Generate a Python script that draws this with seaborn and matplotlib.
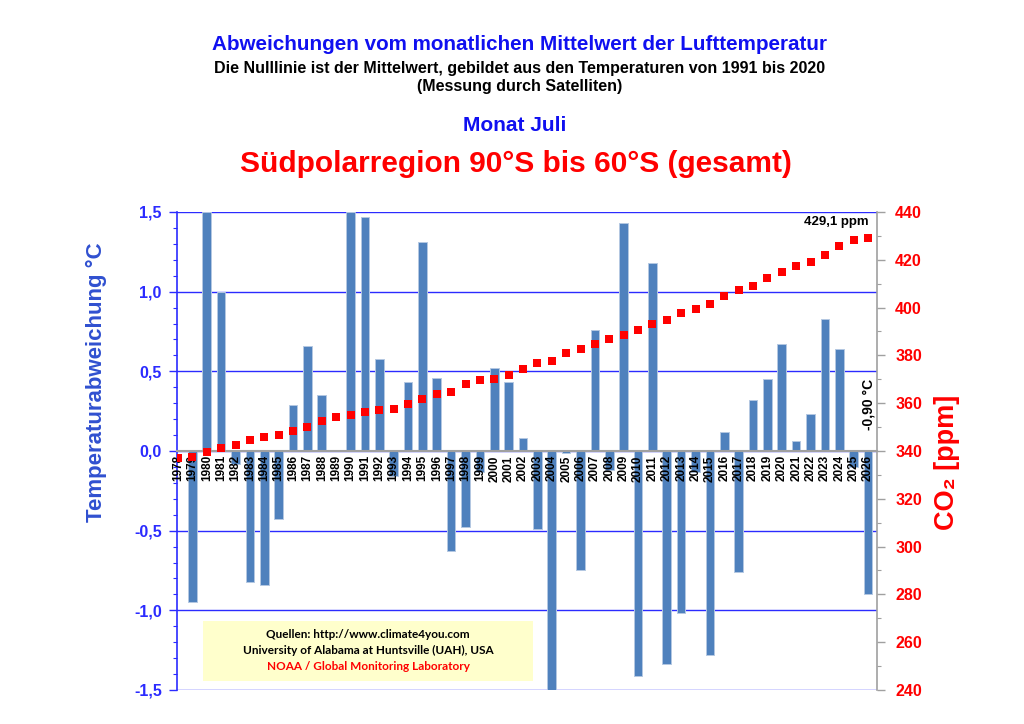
import numpy as np
import pandas as pd
import matplotlib
matplotlib.use("Agg")
import matplotlib.pyplot as plt
import seaborn as sns
from matplotlib.ticker import MultipleLocator, FuncFormatter
from matplotlib.patches import Rectangle

# ---------------- data ----------------
years = list(range(1978, 2027))
temp_anom = [np.nan, -0.95, 1.50, 1.00, -0.08, -0.82, -0.84, -0.43, 0.29, 0.66,
             0.35, 0.00, 1.50, 1.47, 0.58, -0.16, 0.43, 1.31, 0.46, -0.63,
             -0.48, -0.13, 0.52, 0.43, 0.08, -0.49, -1.52, -0.01, -0.75, 0.76,
             -0.12, 1.43, -1.41, 1.18, -1.34, -1.02, -0.13, -1.28, 0.12, -0.76,
             0.32, 0.45, 0.67, 0.06, 0.23, 0.83, 0.64, -0.10, -0.90]
co2_ppm = [337.0, 337.6, 339.5, 341.1, 342.5, 344.5, 345.9, 346.8, 348.4, 350.2,
           352.7, 354.1, 354.9, 356.3, 357.2, 357.6, 359.5, 361.8, 363.7, 364.6,
           368.2, 369.7, 370.1, 371.8, 374.3, 376.9, 377.7, 381.0, 382.8, 384.9,
           386.7, 388.4, 390.6, 393.0, 394.8, 397.6, 399.4, 401.5, 404.7, 407.4,
           409.1, 412.2, 414.8, 417.2, 419.0, 422.0, 425.6, 428.1, 429.1]
temp_ticks = [-1.5, -1.0, -0.5, 0.0, 0.5, 1.0, 1.5]
co2_ticks = list(range(240, 441, 20))

title_1 = "Abweichungen vom monatlichen Mittelwert der Lufttemperatur"
title_2 = "Die Nulllinie ist der Mittelwert, gebildet aus den Temperaturen von 1991 bis 2020"
title_3 = "(Messung durch Satelliten)"
title_month = "Monat Juli"
title_region = "Südpolarregion 90°S bis 60°S (gesamt)"
last_temp_label = "-0,90 °C"
last_co2_label = "429,1 ppm"
source_lines = ["Quellen: http://www.climate4you.com",
                "University of Alabama at Huntsville (UAH), USA",
                "NOAA / Global Monitoring Laboratory"]

df = pd.DataFrame({"year": [str(y) for y in years], "temp": temp_anom, "co2": co2_ppm})

# ---------------- style ----------------
sns.set_style("white")
plt.rcParams["font.family"] = ["Liberation Sans", "DejaVu Sans"]
plt.rcParams["font.weight"] = "bold"

BLUE = "#2B2BFF"
BAR = "#4F81BD"
GRAY = "#A0A0A0"

fig = plt.figure(figsize=(10.24, 7.24), dpi=100)
ax = fig.add_axes([0.1729, 0.047, 0.6836, 0.6602])
ax.set_axisbelow(True)

sns.barplot(data=df, x="year", y="temp", color=BAR, width=0.6, errorbar=None,
            saturation=1, edgecolor="#B4C8E2", linewidth=0.7, ax=ax)

n = len(years)
ax.set_xlim(-0.07, n - 1 + 0.63)
ax.set_ylim(-1.5, 1.5)
ax.set_xlabel("")
ax.set_ylabel("Temperaturabweichung °C", color="#3050D0", fontsize=16,
              fontweight="bold")
ax.yaxis.set_label_coords(-0.10, 0.644)

ax.set_yticks(temp_ticks)
ax.yaxis.set_minor_locator(MultipleLocator(0.1))
ax.yaxis.set_major_formatter(FuncFormatter(lambda v, p: f"{v:.1f}".replace(".", ",")))
ax.tick_params(axis="y", which="major", colors=BLUE, labelcolor=BLUE, length=6,
               width=1, labelsize=11.5, pad=5)
ax.tick_params(axis="y", which="minor", colors=BLUE, length=3, width=0.8)
for lab in ax.get_yticklabels():
    lab.set_fontweight("bold")
ax.yaxis.grid(True, which="major", color=BLUE, linewidth=1.0)

ax.spines["top"].set_visible(False)
ax.spines["right"].set_visible(False)
ax.spines["left"].set_color(BLUE)
ax.spines["left"].set_linewidth(1.2)
ax.spines["bottom"].set_position(("data", 0))
ax.spines["bottom"].set_color(GRAY)
ax.spines["bottom"].set_linewidth(1.5)
ax.spines["bottom"].set_zorder(3)
ax.tick_params(axis="x", colors=GRAY, length=3, width=1, labelbottom=False)

for i, yr in enumerate(years):
    ax.annotate(str(yr), xy=(i, 0), xytext=(0, -3), textcoords="offset points",
                rotation=90, ha="center", va="top", fontsize=8.5, fontweight="bold",
                color="black", zorder=5)

ax.text(n - 1, 0.13, last_temp_label, rotation=90, ha="center", va="bottom",
        fontsize=10, fontweight="bold", color="black", zorder=5)

# source box
ax.add_patch(Rectangle((0.037, 0.019), 0.472, 0.125, transform=ax.transAxes,
                       facecolor="#FFFFCC", edgecolor="none", zorder=4))
src_y = [0.117, 0.082, 0.049]
src_col = ["black", "black", "red"]
for txt, yy, cc in zip(source_lines, src_y, src_col):
    ax.text(0.273, yy, txt, transform=ax.transAxes, ha="center", va="center",
            fontsize=8.5, fontweight="bold", color=cc, family=["Lato", "DejaVu Sans"],
            zorder=5)

# CO2 axis
ax2 = ax.twinx()
sns.pointplot(data=df, x="year", y="co2", color="red", linestyle="none", marker="s",
              markersize=5.5, markeredgewidth=0, errorbar=None, ax=ax2)
ax2.set_xlim(-0.07, n - 1 + 0.63)
ax2.set_ylim(240, 440)
ax2.set_yticks(co2_ticks)
ax2.yaxis.set_minor_locator(MultipleLocator(10))
ax2.tick_params(axis="y", which="major", colors=GRAY, labelcolor="red", length=6,
                width=1, labelsize=11.5, pad=7)
ax2.tick_params(axis="y", which="minor", colors=GRAY, length=3, width=0.8)
for lab in ax2.get_yticklabels():
    lab.set_fontweight("bold")
ax2.set_ylabel("CO₂ [ppm]", color="red", fontsize=19.5, fontweight="bold")
ax2.yaxis.set_label_coords(1.082, 0.477)
ax2.set_xlabel("")
for s in ["top", "left", "bottom"]:
    ax2.spines[s].set_visible(False)
ax2.spines["right"].set_color(GRAY)
ax2.spines["right"].set_linewidth(1.2)
ax2.tick_params(axis="x", bottom=False, labelbottom=False)
ax2.grid(False)

ax2.text(n - 1 - 2.2, 436, last_co2_label, ha="center", va="center", fontsize=9.5,
         fontweight="bold", color="black")

# titles
fig.text(0.507, 0.938, title_1, ha="center", va="center", fontsize=14.9,
         fontweight="bold", color="#1010F0")
fig.text(0.507, 0.906, title_2, ha="center", va="center", fontsize=11.5,
         fontweight="bold", color="black")
fig.text(0.507, 0.881, title_3, ha="center", va="center", fontsize=11.5,
         fontweight="bold", color="black")
fig.text(0.503, 0.826, title_month, ha="center", va="center", fontsize=15,
         fontweight="bold", color="#1010F0")
fig.text(0.504, 0.773, title_region, ha="center", va="center", fontsize=21.5,
         fontweight="bold", color="#FF0000")

fig.savefig("out.png", dpi=100)
